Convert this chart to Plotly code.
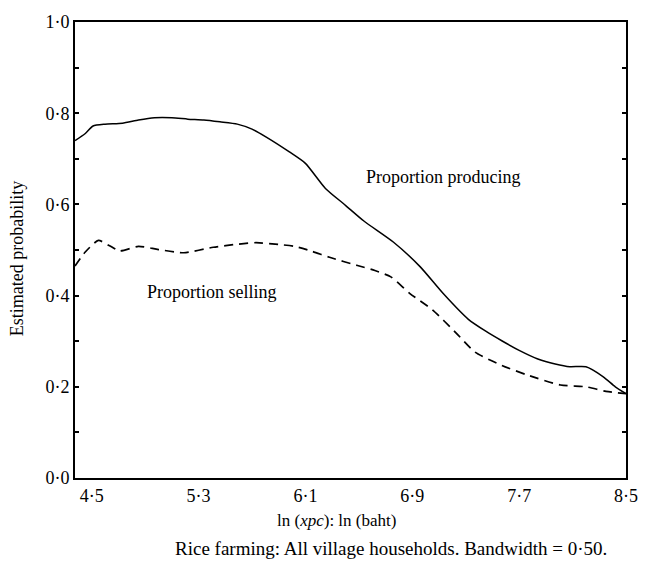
import plotly.graph_objects as go

# ---- data ----
x_producing = [4.375, 4.45, 4.51, 4.6, 4.73, 4.85, 4.97, 5.1, 5.22, 5.34, 5.46, 5.59, 5.7, 5.81,
               5.98, 6.1, 6.25, 6.4, 6.54, 6.76, 6.96, 7.13, 7.32, 7.45, 7.57, 7.7, 7.84, 7.97,
               8.08, 8.2, 8.33, 8.42, 8.5]
y_producing = [0.74, 0.755, 0.772, 0.776, 0.778, 0.785, 0.79, 0.79, 0.787, 0.785, 0.781, 0.776,
               0.765, 0.747, 0.715, 0.69, 0.635, 0.598, 0.563, 0.517, 0.463, 0.405, 0.348, 0.322,
               0.301, 0.28, 0.261, 0.25, 0.244, 0.244, 0.222, 0.2, 0.185]

x_selling = [4.375, 4.45, 4.55, 4.63, 4.71, 4.85, 5.0, 5.19, 5.41, 5.6, 5.73, 5.9, 6.02, 6.15,
             6.28, 6.49, 6.62, 6.74, 6.88, 7.05, 7.225, 7.37, 7.57, 7.76, 8.01, 8.2, 8.35, 8.5]
y_selling = [0.465, 0.495, 0.521, 0.51, 0.498, 0.508, 0.501, 0.494, 0.506, 0.513, 0.516, 0.512,
             0.508, 0.497, 0.484, 0.466, 0.455, 0.441, 0.405, 0.369, 0.319, 0.276, 0.247, 0.226,
             0.204, 0.2, 0.19, 0.185]

x_tickvals = [4.5, 5.3, 6.1, 6.9, 7.7, 8.5]
x_ticktext = ["4·5", "5·3", "6·1", "6·9", "7·7", "8·5"]
y_tickvals = [0.0, 0.2, 0.4, 0.6, 0.8, 1.0]
y_ticktext = ["0·0", "0·2", "0·4", "0·6", "0·8", "1·0"]

label_producing = "Proportion producing"
label_selling = "Proportion selling"
x_title = "ln (<i>xpc</i>): ln (baht)"
y_title = "Estimated probability"
caption = "Rice farming: All village households. Bandwidth = 0·50."

FONT = "Liberation Serif"

fig = go.Figure()
fig.add_trace(go.Scatter(x=x_producing, y=y_producing, mode="lines",
                         line=dict(color="black", width=1.5, shape="spline", smoothing=0.6),
                         showlegend=False, hoverinfo="skip"))
fig.add_trace(go.Scatter(x=x_selling, y=y_selling, mode="lines",
                         line=dict(color="black", width=1.7, dash="9px,6px", shape="spline", smoothing=0.6),
                         showlegend=False, hoverinfo="skip"))

fig.add_annotation(x=7.13, y=0.66, text=label_producing, showarrow=False,
                   font=dict(family=FONT, size=18, color="black"))
fig.add_annotation(x=5.4, y=0.407, text=label_selling, showarrow=False,
                   font=dict(family=FONT, size=18, color="black"))
fig.add_annotation(x=0.475, y=-0.093, xref="paper", yref="paper", text=x_title, showarrow=False,
                   font=dict(family=FONT, size=17, color="black"), yanchor="middle")
fig.add_annotation(x=0.97, y=-0.155, xref="paper", yref="paper", text=caption, showarrow=False,
                   font=dict(family=FONT, size=19, color="black"), xanchor="right", yanchor="middle")
fig.add_annotation(x=-0.105, y=0.48, xref="paper", yref="paper", text=y_title, showarrow=False,
                   textangle=-90, font=dict(family=FONT, size=18, color="black"),
                   xanchor="center", yanchor="middle")

fig.update_xaxes(range=[4.375, 8.5], tickvals=x_tickvals, ticktext=x_ticktext,
                 showgrid=False, zeroline=False, showline=True, linecolor="black", linewidth=2,
                 mirror=True, ticks="", tickfont=dict(family=FONT, size=18, color="black"))
fig.update_yaxes(range=[0, 1.0], tickvals=y_tickvals, ticktext=y_ticktext,
                 showgrid=False, zeroline=False, showline=True, linecolor="black", linewidth=2,
                 mirror="ticks", ticks="inside", ticklen=4, tickwidth=1.5, tickcolor="black",
                 minor=dict(dtick=0.1, ticks="inside", ticklen=4, tickwidth=1.5, tickcolor="black"),
                 tickfont=dict(family=FONT, size=18, color="black"))

fig.update_layout(width=650, height=568, plot_bgcolor="white", paper_bgcolor="white",
                  margin=dict(l=75, r=13, t=14, b=90))

fig.write_html("out.html")
